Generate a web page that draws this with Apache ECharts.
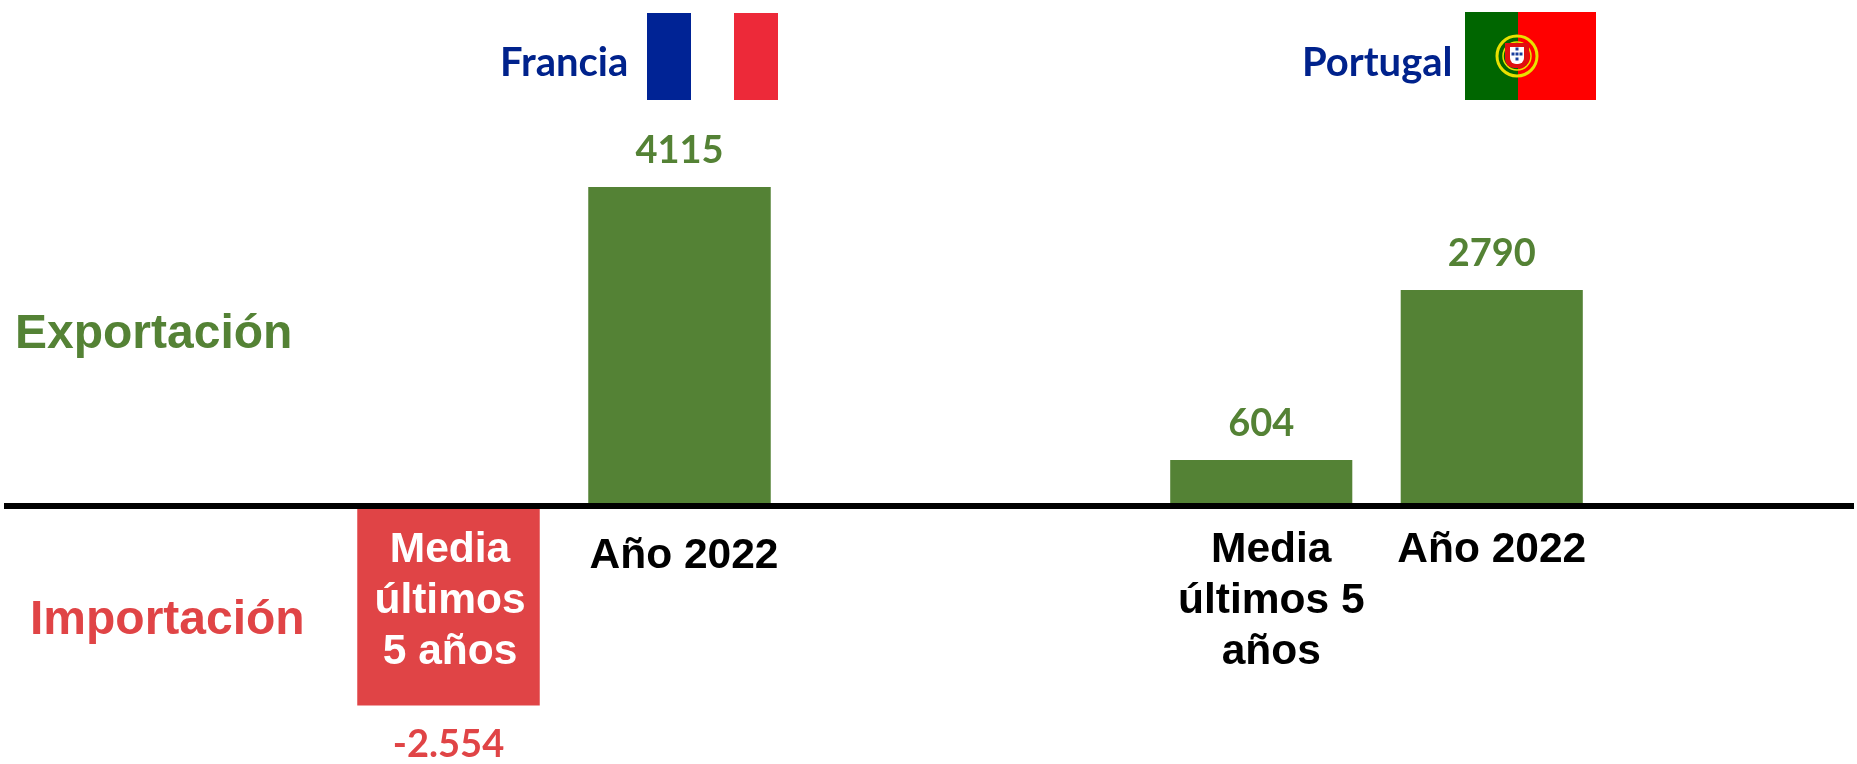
<!DOCTYPE html>
<html><head><meta charset="utf-8">
<style>html,body{margin:0;padding:0;background:#fff}#c{width:1857px;height:764px}</style>
<script src="https://cdn.jsdelivr.net/npm/echarts@6/dist/echarts.min.js"></script>
</head><body><div id="c"></div>
<script>
const franciaCategories = ['Media\núltimos\n5 años', 'Año 2022'];
const franciaValues = [-2554, 4115];
const franciaLabels = ['-2.554', '4115'];
const portugalCategories = ['Media\núltimos 5\naños', 'Año 2022'];
const portugalValues = [604, 2790];
const portugalLabels = ['604', '2790'];
const GREEN = '#548235', RED = '#E04446', NAVY = '#00228C';
const ARIAL = '"Liberation Sans", Arial, sans-serif', CAL = 'Lato, sans-serif';
const yMin = -3000, yMax = 5000;

function yAx(i){ return {type:'value', gridIndex:i, min:yMin, max:yMax, show:false}; }
function barData(vals){ return vals.map(v => ({value:v, itemStyle:{color: v<0 ? RED : GREEN},
  label:{color: v<0 ? RED : GREEN, position: v<0 ? 'bottom' : 'top', distance: v<0 ? 20 : 17}})); }
function barSeries(i, vals, labs){
  return {type:'bar', xAxisIndex:i, yAxisIndex:i, data:barData(vals), barWidth:'79%', silent:true,
    label:{show:true, fontFamily:CAL, fontWeight:'bold', fontSize:38,
      formatter:p => labs[p.dataIndex]}};
}
const base = {fontFamily:ARIAL, fontWeight:'bold', fontSize:42.5, lineHeight:51};
function catAxis(i, cats, formatter, rich){
  return {type:'category', gridIndex:i, data:cats, z:10, position:'bottom', offset:-233.3,
    axisLine:{show:false, onZero:false}, axisTick:{show:false},
    axisLabel:{show:true, interval:0, margin:18, formatter, rich, ...base, color:'#000'}};
}
const tag = (t, s) => s.split('\n').map(l => `{${t}|${l}}`).join('\n');

const option = {
  animation:false, backgroundColor:'#fff',
  grid:[
    {left:333, width:462, top:118.2, height:622.1, outerBoundsMode:'none'},
    {left:1146, width:461, top:118.2, height:622.1, outerBoundsMode:'none'},
    {left:4, width:1850, top:116.5, height:622.1, outerBoundsMode:'none'}
  ],
  xAxis:[
    catAxis(0, franciaCategories, (v,i) => i===0 ? tag('w', v) : tag('y', v), {
      w:{...base, color:'#fff', padding:[0,0,0,3]},
      y:{...base, color:'#000', padding:[12,0,0,9]}
    }),
    catAxis(1, portugalCategories, (v,i) => i===0 ? tag('m', v) : tag('k', v), {
      m:{...base, color:'#000', padding:[0,0,0,20]},
      k:{...base, color:'#000'}
    }),
    {type:'value', gridIndex:2, min:0, max:1, z:12, axisTick:{show:false}, axisLabel:{show:false},
     splitLine:{show:false}, axisLine:{show:true, onZero:true, lineStyle:{color:'#000', width:6, cap:'butt'}}}
  ],
  yAxis:[yAx(0), yAx(1), yAx(2)],
  series:[ barSeries(0, franciaValues, franciaLabels), barSeries(1, portugalValues, portugalLabels) ],
  graphic:[
    {type:'text', left:500, top:43, style:{text:'Francia', fill:NAVY, font:'bold 40px '+CAL}},
    {type:'text', left:1302, top:43, style:{text:'Portugal', fill:NAVY, font:'bold 40px '+CAL}},
    {type:'text', left:15, top:311, style:{text:'Exportación', fill:GREEN, font:'bold 48px '+ARIAL}},
    {type:'text', left:30, top:597, style:{text:'Importación', fill:RED, font:'bold 48px '+ARIAL}},
    {type:'rect', shape:{x:647,y:13,width:44,height:87}, style:{fill:'#002395'}},
    {type:'rect', shape:{x:734,y:13,width:44,height:87}, style:{fill:'#ED2939'}},
    {type:'rect', shape:{x:1465,y:12,width:53,height:88}, style:{fill:'#006600'}},
    {type:'rect', shape:{x:1518,y:12,width:78,height:88}, style:{fill:'#FF0000'}},
    {type:'circle', shape:{cx:1517,cy:56,r:20}, style:{fill:'none', stroke:'#E8E000', lineWidth:3}},
    {type:'circle', shape:{cx:1517,cy:56,r:14}, style:{fill:'none', stroke:'#E8E000', lineWidth:1.5}},
    {type:'rect', shape:{x:1505,y:43,width:24,height:25,r:[0,0,9,9]}, style:{fill:'#E01010'}},
    {type:'rect', shape:{x:1510,y:47,width:14,height:17,r:[0,0,6,6]}, style:{fill:'#FFFFFF'}},
    ...[[1517,49],[1513,54],[1517,54],[1521,54],[1517,59]].map(p =>
      ({type:'rect', shape:{x:p[0]-1.5,y:p[1]-1.5,width:3,height:3}, style:{fill:'#1A3F9C'}}))
  ]
};
echarts.init(document.getElementById('c'), null, {renderer:'canvas'}).setOption(option);
</script></body></html>
